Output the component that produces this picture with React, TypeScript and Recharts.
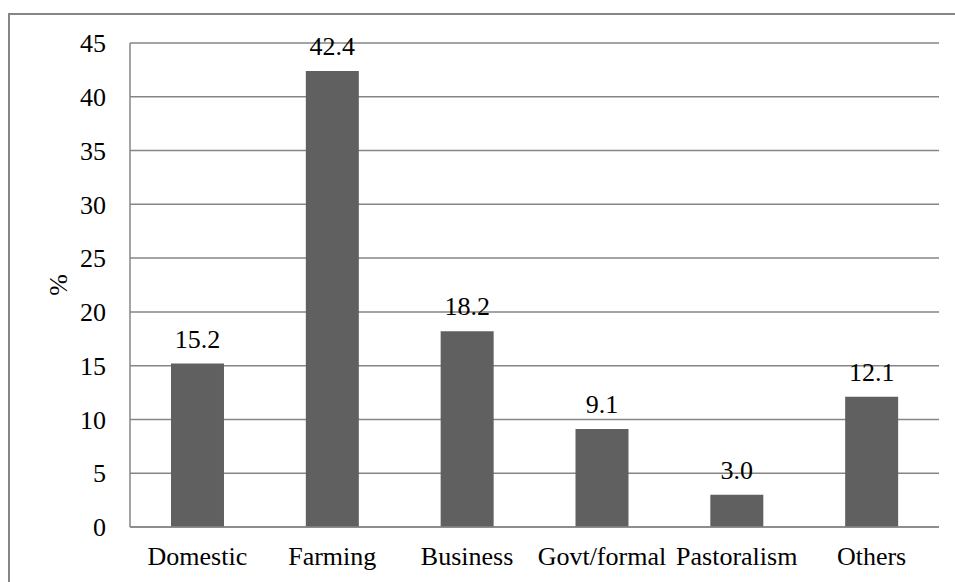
import React from 'react';
import { BarChart, Bar, XAxis, YAxis, CartesianGrid, LabelList, Label } from 'recharts';

// Occupation shares (%)
const categories = ['Domestic', 'Farming', 'Business', 'Govt/formal', 'Pastoralism', 'Others'];
const shares = [15.2, 42.4, 18.2, 9.1, 3.0, 12.1];
const yTicks = [0, 5, 10, 15, 20, 25, 30, 35, 40, 45];

const data = categories.map((name, i) => ({ name, value: shares[i] }));

const FONT = '"Liberation Serif", "Times New Roman", serif';
const GRID = '#868686';
const BAR = '#606060';
const textStyle = { fontFamily: FONT, fontSize: 26, fill: '#000' };

const PercentLabel = (props: any) => {
  const vb = props.viewBox || {};
  const cx = vb.x + vb.width / 2 - 7;
  const cy = vb.y + vb.height / 2;
  return (
    <text
      x={cx}
      y={cy}
      transform={`rotate(-90, ${cx}, ${cy})`}
      textAnchor="middle"
      dominantBaseline="central"
      style={textStyle}
    >
      %
    </text>
  );
};

export default function App() {
  return (
    <div
      style={{
        position: 'absolute',
        left: 0,
        top: 0,
        width: 955,
        height: 582,
        background: '#fff',
        fontFamily: FONT,
      }}
    >
      <div
        style={{
          position: 'absolute',
          left: 8,
          top: 13,
          width: 960,
          height: 600,
          borderTop: `2px solid ${GRID}`,
          borderLeft: `2px solid ${GRID}`,
          boxSizing: 'border-box',
        }}
      />
      <div style={{ position: 'absolute', left: 0, top: 0 }}>
        <BarChart
          width={955}
          height={582}
          data={data}
          margin={{ top: 43, right: 16, bottom: 0, left: 0 }}
          barCategoryGap="30.4%"
          style={{ fontFamily: FONT }}
        >
          <CartesianGrid vertical={false} stroke={GRID} strokeWidth={1.5} />
          <XAxis
            dataKey="name"
            height={55}
            interval={0}
            tickLine={false}
            axisLine={{ stroke: GRID, strokeWidth: 1.5 }}
            tickSize={0}
            tickMargin={20}
            tick={textStyle}
          />
          <YAxis
            width={130}
            domain={[0, 45]}
            ticks={yTicks}
            interval={0}
            tickLine={false}
            axisLine={{ stroke: GRID, strokeWidth: 1.5 }}
            tickSize={0}
            tickMargin={24}
            tick={textStyle}
          >
            <Label content={PercentLabel} />
          </YAxis>
          <Bar dataKey="value" fill={BAR} isAnimationActive={false}>
            <LabelList
              dataKey="value"
              position="top"
              offset={16}
              formatter={(v: any) => Number(v).toFixed(1)}
              fontFamily={FONT}
              fontSize={26}
              fill="#000"
              style={textStyle}
            />
          </Bar>
        </BarChart>
      </div>
    </div>
  );
}
